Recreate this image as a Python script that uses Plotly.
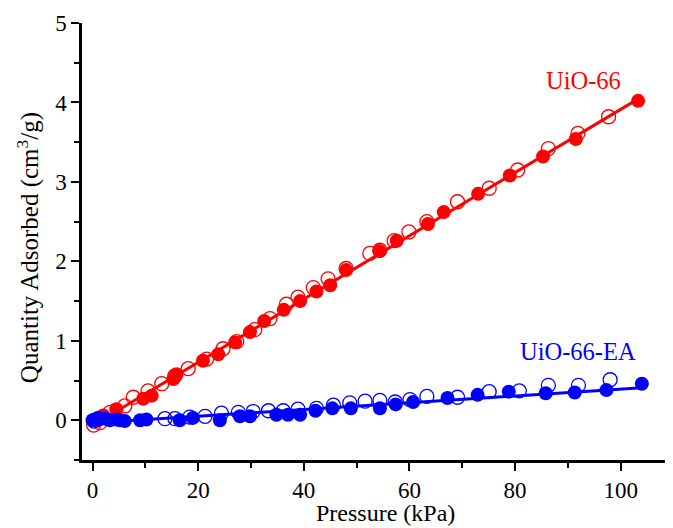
import numpy as np
import plotly.graph_objects as go

# UiO-66 (red)
uio_ads_x = [0.8, 2.0, 4.5, 9.6, 11.2, 15.3, 15.9, 20.9, 23.8, 27.0, 29.8, 32.5, 36.2, 39.3, 42.4,
             45.0, 48.0, 54.3, 57.6, 63.5, 66.5, 73.0, 79.0, 85.3, 91.5, 103.3]
uio_ads_y = [0.00, 0.06, 0.14, 0.27, 0.31, 0.52, 0.58, 0.75, 0.83, 0.98, 1.11, 1.25, 1.39, 1.50, 1.62,
             1.70, 1.89, 2.13, 2.26, 2.47, 2.62, 2.85, 3.08, 3.32, 3.54, 4.02]
uio_des_x = [0.2, 1.4, 3.3, 6.1, 7.7, 10.5, 13.1, 15.6, 18.1, 21.6, 24.7, 27.3, 30.7, 33.6, 36.7,
             38.9, 41.8, 44.6, 48.0, 52.5, 54.4, 57.1, 59.9, 63.3, 69.1, 75.1, 80.5, 86.3, 91.9, 97.7]
uio_des_y = [-0.06, -0.03, 0.10, 0.18, 0.29, 0.37, 0.46, 0.56, 0.65, 0.77, 0.90, 0.99, 1.14, 1.28, 1.46,
             1.55, 1.67, 1.78, 1.91, 2.10, 2.14, 2.26, 2.37, 2.50, 2.75, 2.92, 3.15, 3.42, 3.61, 3.82]

# UiO-66-EA (blue)
ea_ads_x = [0.0, 0.4, 1.0, 1.4, 2.5, 3.3, 4.5, 5.2, 6.1, 9.0, 10.2, 16.5, 19.0, 24.1, 27.9, 29.8,
            34.8, 37.0, 39.3, 42.2, 45.4, 48.9, 54.4, 57.4, 60.7, 67.2, 72.9, 78.8, 85.8, 91.3, 97.3, 104.0]
ea_ads_y = [0.00, 0.01, 0.03, 0.02, 0.02, 0.00, 0.01, 0.00, -0.01, 0.00, 0.01, 0.00, 0.03, 0.00, 0.05, 0.05,
            0.07, 0.07, 0.07, 0.12, 0.15, 0.15, 0.15, 0.20, 0.23, 0.28, 0.32, 0.36, 0.34, 0.35, 0.38, 0.46]
ea_des_x = [0.3, 1.2, 13.7, 15.6, 18.4, 21.3, 24.4, 27.6, 30.4, 33.3, 36.1, 38.9, 42.4, 45.6, 48.7,
            51.6, 54.4, 57.3, 60.1, 63.3, 69.1, 75.1, 80.8, 86.3, 92.0, 98.0]
ea_des_y = [-0.01, 0.02, 0.02, 0.02, 0.04, 0.05, 0.09, 0.10, 0.11, 0.12, 0.12, 0.14, 0.15, 0.19, 0.22,
            0.24, 0.25, 0.23, 0.26, 0.30, 0.29, 0.36, 0.37, 0.44, 0.44, 0.51]

series_names = ["UiO-66", "UiO-66-EA"]
x_tick_vals = [0, 20, 40, 60, 80, 100]
y_tick_vals = [0, 1, 2, 3, 4, 5]

RED = "#ff0000"
BLUE = "#0000ff"
FONT = "Liberation Serif, Times New Roman, serif"

fig = go.Figure()


def add_series(ax, ay, dx, dy, color):
    fig.add_trace(go.Scatter(x=ax, y=ay, mode="markers",
                             marker=dict(symbol="circle", size=14, color=color, line=dict(width=0)),
                             showlegend=False, cliponaxis=False))
    fig.add_trace(go.Scatter(x=dx, y=dy, mode="markers",
                             marker=dict(symbol="circle-open", size=14, color=color, line=dict(width=1.3)),
                             showlegend=False, cliponaxis=False))
    k, b = np.polyfit(ax, ay, 1)
    xs = np.array([min(ax), max(ax)])
    fig.add_trace(go.Scatter(x=xs, y=k * xs + b, mode="lines",
                             line=dict(color=color, width=3), showlegend=False))


add_series(uio_ads_x, uio_ads_y, uio_des_x, uio_des_y, RED)
add_series(ea_ads_x, ea_ads_y, ea_des_x, ea_des_y, BLUE)

fig.add_annotation(x=92.9, y=4.28, text=series_names[0], showarrow=False,
                   font=dict(family=FONT, size=24.5, color=RED))
fig.add_annotation(x=91.9, y=0.86, text=series_names[1], showarrow=False,
                   font=dict(family=FONT, size=24.5, color=BLUE))

# axis titles
fig.add_annotation(xref="paper", yref="paper", x=0.514, y=-0.121, yanchor="middle", xanchor="center",
                   text="Pressure (kPa)", showarrow=False, borderpad=0,
                   font=dict(family=FONT, size=24, color="black"))
fig.add_annotation(xref="paper", yref="paper", x=-0.0914, y=0.487, xanchor="center", yanchor="middle",
                   textangle=-90, text="Quantity Adsorbed (cm<sup>3</sup>/g)", showarrow=False,
                   font=dict(family=FONT, size=25, color="black"))

axis_common = dict(
    showline=True, linecolor="black", linewidth=2.5,
    ticks="outside", ticklen=8, tickwidth=2, tickcolor="black",
    showgrid=False, zeroline=False, mirror=False, automargin=False,
    tickfont=dict(family=FONT, size=23, color="black"),
)

fig.update_xaxes(range=[-2, 109.9], tickvals=x_tick_vals,
                 minor=dict(dtick=10, tick0=0, ticks="outside", ticklen=5, tickwidth=2, tickcolor="black"),
                 **axis_common)
fig.update_yaxes(range=[-0.5, 5], tickvals=y_tick_vals,
                 minor=dict(dtick=0.5, tick0=0, ticks="outside", ticklen=5, tickwidth=2, tickcolor="black"),
                 **axis_common)

# the page body adds an 8 px offset, so the figure is 8 px smaller and margins shifted
fig.update_layout(
    width=665, height=520,
    margin=dict(l=74, r=0, t=15, b=68),
    paper_bgcolor="white", plot_bgcolor="white",
    font=dict(family=FONT),
)

fig.write_html("out.html")
